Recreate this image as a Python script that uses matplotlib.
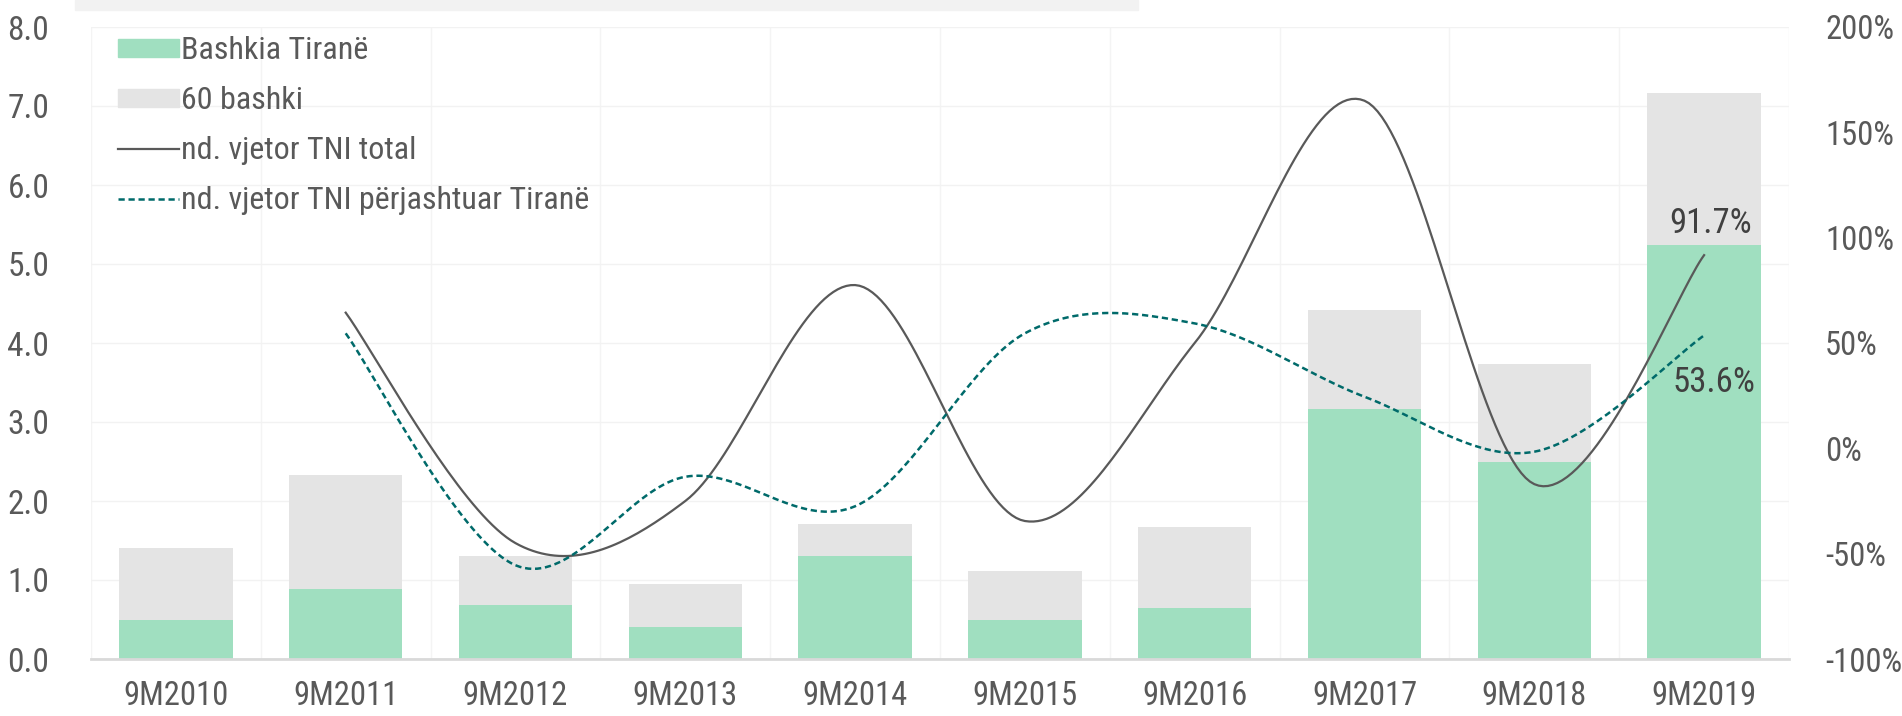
import numpy as np
import matplotlib
matplotlib.use('Agg')
import matplotlib.pyplot as plt
from matplotlib import font_manager
from matplotlib.lines import Line2D
from matplotlib.patches import Patch, Rectangle

# dane
years = ['9M2010', '9M2011', '9M2012', '9M2013', '9M2014',
         '9M2015', '9M2016', '9M2017', '9M2018', '9M2019']
tirana = [0.49, 0.89, 0.68, 0.40, 1.31, 0.49, 0.65, 3.16, 2.50, 5.24]
total_60 = [1.41, 2.33, 1.31, 0.95, 1.71, 1.12, 1.67, 4.42, 3.73, 7.17]
growth_total = [np.nan, 64.4, -45.0, -25.0, 77.5, -34.5, 50.0, 165.0, -17.0, 91.7]
growth_excl = [np.nan, 54.6, -55.5, -13.5, -27.5, 54.6, 59.3, 24.5, -1.6, 53.6]

GREEN = '#a0dfc0'
GRAY = '#e4e4e4'
LINE_DARK = '#595959'
TEAL = '#006a6a'
TEXT = '#595959'

# font - wąski jak Arial Narrow jeśli jest
names = {f.name for f in font_manager.fontManager.ttflist}
font = 'Liberation Sans'
for cand in ['Liberation Sans Narrow', 'Roboto Condensed', 'Liberation Sans']:
    if cand in names:
        font = cand
        break
plt.rcParams['font.family'] = [font, 'DejaVu Sans']


def smooth(xs, ys, n=40):
    # wygładzanie jak w Excelu (Catmull-Rom / Bezier)
    xs = np.asarray(xs, float)
    ys = np.asarray(ys, float)
    P = np.column_stack([xs, ys])
    out = []
    for i in range(len(P) - 1):
        p0 = P[i - 1] if i > 0 else P[i]
        p1, p2 = P[i], P[i + 1]
        p3 = P[i + 2] if i + 2 < len(P) else P[i + 1]
        b1 = p1 + (p2 - p0) / 6
        b2 = p2 - (p3 - p1) / 6
        t = np.linspace(0, 1, n)[:, None]
        seg = ((1 - t) ** 3 * p1 + 3 * (1 - t) ** 2 * t * b1
               + 3 * (1 - t) * t ** 2 * b2 + t ** 3 * p2)
        out.append(seg if i == 0 else seg[1:])
    c = np.vstack(out)
    return c[:, 0], c[:, 1]


fig = plt.figure(figsize=(19.02, 7.16), dpi=100)
ax = fig.add_axes([91 / 1902, 1 - 659 / 716, 1698 / 1902, 632 / 716])
ax2 = ax.twinx()

# pasek tytułu (ucięty u góry)
fig.patches.append(Rectangle((75 / 1902, 1 - 10 / 716), 1063 / 1902, 10 / 716,
                             transform=fig.transFigure, color='#f2f2f2', zorder=0))

x = np.arange(len(years))
others = np.array(total_60) - np.array(tirana)
ax.bar(x, tirana, width=0.667, color=GREEN, zorder=2)
ax.bar(x, others, width=0.667, bottom=tirana, color=GRAY, zorder=2)

ax.set_xlim(-0.5, len(years) - 0.5)
ax.set_ylim(0, 8)
ax.set_yticks(np.arange(0, 9, 1))
ax.set_yticklabels([f'{v:.1f}' for v in np.arange(0, 9, 1)])
ax.set_xticks(x)
ax.set_xticklabels(years)
ax.set_xticks(np.arange(-0.5, len(years), 1), minor=True)
ax.grid(axis='y', color='#f2f2f2', lw=1, zorder=0)
ax.grid(axis='x', which='minor', color='#f4f4f4', lw=1, zorder=0)
ax.tick_params(axis='both', which='both', length=0, labelsize=24, labelcolor=TEXT)
ax.tick_params(axis='x', labelsize=23.5, pad=15)
ax.tick_params(axis='y', pad=30)
for s in ['top', 'left', 'right']:
    ax.spines[s].set_visible(False)
ax.spines['bottom'].set_color('#d9d9d9')
ax.spines['bottom'].set_linewidth(2)

# linie wzrostu
xt, yt = smooth(x[1:], growth_total[1:])
xe, ye = smooth(x[1:], growth_excl[1:])
ax2.plot(xt, yt, color=LINE_DARK, lw=1.6, zorder=3)
ax2.plot(xe, ye, color=TEAL, lw=1.8, dashes=(2.5, 1.5), zorder=3)
ax2.set_ylim(-100, 200)
ax2.set_yticks(np.arange(-100, 201, 50))
ax2.set_yticklabels([f'{v}%' for v in np.arange(-100, 201, 50)])
ax2.tick_params(axis='y', length=0, labelsize=23.5, labelcolor=TEXT, pad=26)
for s in ax2.spines.values():
    s.set_visible(False)

ax2.annotate(f'{growth_total[-1]:.1f}%', (x[-1], growth_total[-1]),
             xytext=(6, 32), textcoords='offset pixels', ha='center', va='center',
             fontsize=25, color='#404040')
ax2.annotate(f'{growth_excl[-1]:.1f}%', (x[-1], growth_excl[-1]),
             xytext=(10, -47), textcoords='offset pixels', ha='center', va='center',
             fontsize=25, color='#404040')

handles = [Patch(color=GREEN), Patch(color=GRAY),
           Line2D([], [], color=LINE_DARK, lw=1.6),
           Line2D([], [], color=TEAL, lw=1.8, dashes=(2.5, 1.5))]
labels = ['Bashkia Tiranë', '60 bashki', 'nd. vjetor TNI total',
          'nd. vjetor TNI përjashtuar Tiranë']
leg = ax2.legend(handles, labels, loc='upper left', bbox_to_anchor=(0.016, 0.985),
                 frameon=False, fontsize=23, handlelength=1.9, handleheight=0.5,
                 handletextpad=0.08, labelspacing=0.65, borderaxespad=0, borderpad=0)
for t in leg.get_texts():
    t.set_color(TEXT)

fig.savefig('out.png', dpi=100)
